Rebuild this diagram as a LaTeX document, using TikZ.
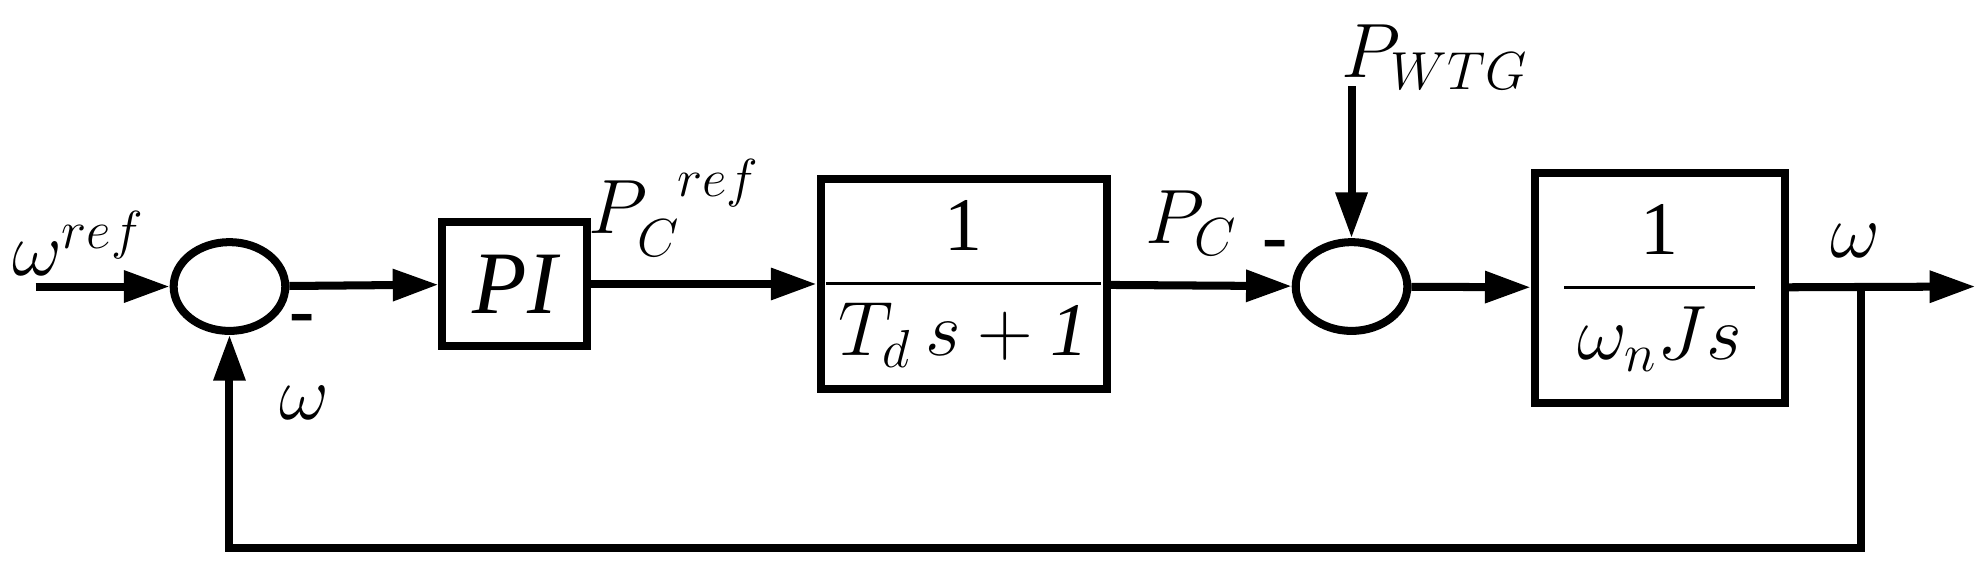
\documentclass[tikz,border=0pt]{standalone}
\usepackage{amsmath}
\usepackage{fontspec}
\setmainfont{Liberation Serif}
\usetikzlibrary{arrows.meta,positioning,shapes.geometric}
\tikzset{
  blk/.style={draw,line width=1.8pt,inner sep=0pt},
  sumj/.style={draw,line width=1.8pt,ellipse,minimum width=0.88cm,minimum height=0.7cm,inner sep=0pt},
  sig/.style={line width=1.8pt,-{Triangle[length=0.36cm,width=0.24cm]}},
  lbl/.style={font=\fontsize{17}{20}\selectfont}
}
\begin{document}
\begin{tikzpicture}[x=0.01cm,y=-0.01cm]
	\useasboundingbox (0,0) rectangle (1568,452);
	
	% summing junctions
	\node[sumj] (s1) at (181,226) {};
	\node[sumj] (s2) at (1066,226) {};
	
	% blocks
	\node[blk,minimum width=1.14cm,minimum height=0.97cm] (pi) at (406,224) {\fontsize{20}{24}\selectfont\itshape PI};
	\node[blk,minimum width=2.11cm,minimum height=1.66cm] (td) at (760,224)
		{\fontsize{17}{20}\selectfont$\dfrac{\mathrm{1}}{\,T_d\,s+\mathit{1}\,}$};
	\node[blk,minimum width=1.97cm,minimum height=1.81cm] (jn) at (1309,227)
		{\fontsize{17}{20}\selectfont$\dfrac{\mathrm{1}}{\,\omega_n Js\,}$};
	
	% free ends
	\coordinate (in) at (28,226);
	\coordinate (out) at (1558,226);
	\coordinate (br) at (1468,226);
	\coordinate (pw) at (1066,68);
	
	% signals
	\draw[sig] (in) -- (s1);
	\draw[sig] (s1) -- (pi);
	\draw[sig] (pi) -- (td);
	\draw[sig] (td) -- (s2);
	\draw[sig] (s2) -- (jn);
	\draw[sig] (jn) -- (out);
	\draw[sig] (pw) -- (s2);
	\draw[sig] (br) |- (181,432) -- (s1);
	
	% labels
	\node[lbl] at (62,192) {$\omega^{ref}$};
	\node[lbl] at (238,256) {\textbf{-}};
	\node[lbl] at (240,318) {$\omega$};
	\node[lbl] at (532,164) {$P_C^{\;\;ref}$};
	\node[lbl] at (940,176) {$P_C$};
	\node[lbl] at (1006,198) {\textbf{-}};
	\node[lbl] at (1132,45) {$P_{WTG}$};
	\node[lbl] at (1463,190) {$\omega$};
\end{tikzpicture}
\end{document}
